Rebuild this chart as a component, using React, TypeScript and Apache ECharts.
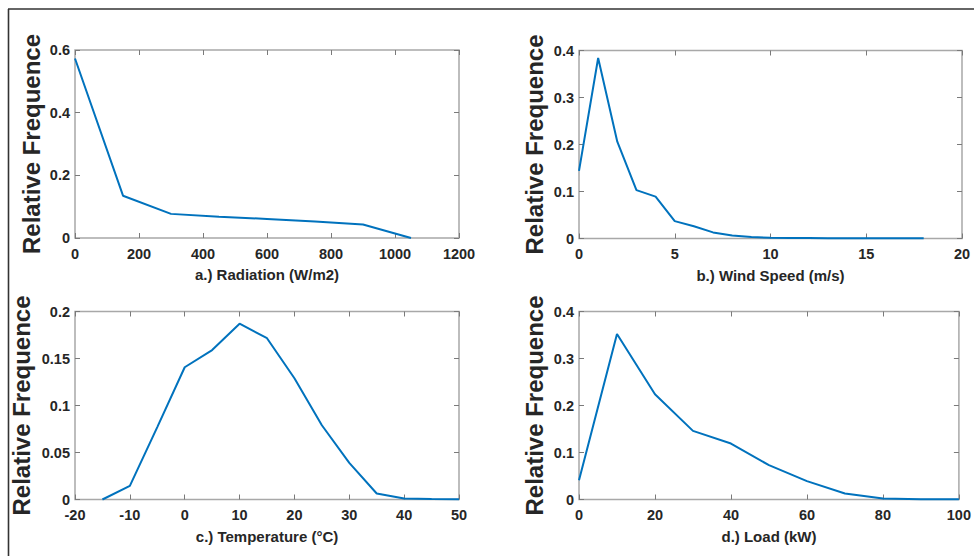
import React, { useEffect, useRef } from "react";
import * as echarts from "echarts";

// a.) Radiation
const radX = [0, 150, 300, 450, 600, 750, 900, 1050];
const radY = [0.573, 0.135, 0.077, 0.068, 0.061, 0.053, 0.043, 0.0];
// b.) Wind speed
const windX = [0, 1, 2, 3, 4, 5, 6, 7, 8, 9, 10, 11, 12, 13, 14, 15, 16, 17, 18];
const windY = [0.144, 0.384, 0.206, 0.103, 0.089, 0.037, 0.026, 0.013, 0.0065, 0.003, 0.0015, 0.001, 0.0009, 0.0007, 0.0006, 0.0005, 0.0004, 0.0003, 0.0003];
// c.) Temperature
const tempX = [-15, -10, -5, 0, 5, 10, 15, 20, 25, 30, 35, 40, 45, 50];
const tempY = [0.0, 0.0145, 0.077, 0.1407, 0.159, 0.187, 0.1716, 0.129, 0.079, 0.039, 0.0064, 0.001, 0.0004, 0.0003];
// d.) Load
const loadX = [0, 10, 20, 30, 40, 50, 60, 70, 80, 90, 100];
const loadY = [0.041, 0.352, 0.224, 0.146, 0.119, 0.073, 0.039, 0.0128, 0.002, 0.0006, 0.0004];

const xTitles = ["a.) Radiation (W/m2)", "b.) Wind Speed (m/s)", "c.) Temperature (°C)", "d.) Load (kW)"];
const yTitle = "Relative Frequence";
const xRanges = [
  [0, 1200, 200],
  [0, 20, 5],
  [-20, 50, 10],
  [0, 100, 20],
];
const yRanges = [
  [0, 0.6, 0.2],
  [0, 0.4, 0.1],
  [0, 0.2, 0.05],
  [0, 0.4, 0.1],
];

const FONT = "'Liberation Sans', Arial, sans-serif";
const TXT = "#262626";
const BOX = "#a8a8a8";
const TICK = "#7a7a7a";

const fmt = (v: number) => String(parseFloat(Number(v).toFixed(4)));

export default function App() {
  const ref = useRef<HTMLDivElement>(null);
  useEffect(() => {
    document.body.style.margin = "0";
    if (!ref.current) return;
    const chart = echarts.init(ref.current, undefined, { renderer: "svg" });
    const grids = [
      { left: 75, top: 50, width: 384, height: 188 },
      { left: 579, top: 50.5, width: 383, height: 188 },
      { left: 75, top: 311.5, width: 384, height: 188 },
      { left: 579, top: 311.5, width: 383, height: 188 },
    ];
    const yGaps = [32, 33, 42, 33];
    const data = [
      [radX, radY],
      [windX, windY],
      [tempX, tempY],
      [loadX, loadY],
    ];
    const xAxis: any[] = [];
    const yAxis: any[] = [];
    const series: any[] = [];
    grids.forEach((g, i) => {
      const [xmin, xmax, xint] = xRanges[i];
      const [ymin, ymax, yint] = yRanges[i];
      const common = {
        type: "value",
        gridIndex: i,
        splitLine: { show: false },
        axisLine: { show: false, onZero: false },
        axisTick: { show: true, inside: true, length: 5, lineStyle: { color: TICK, width: 1 } },
      };
      const lbl = { fontFamily: FONT, fontWeight: "bold", fontSize: 14.5, color: TXT, formatter: fmt };
      xAxis.push({
        ...common,
        min: xmin,
        max: xmax,
        interval: xint,
        position: "bottom",
        name: xTitles[i],
        nameLocation: "middle",
        nameGap: 29,
        nameTextStyle: { fontFamily: FONT, fontWeight: "bold", fontSize: 15, color: TXT },
        axisLabel: { ...lbl, margin: 8 },
      });
      xAxis.push({
        ...common,
        min: xmin,
        max: xmax,
        interval: xint,
        position: "top",
        axisLabel: { show: false },
      });
      yAxis.push({
        ...common,
        min: ymin,
        max: ymax,
        interval: yint,
        position: "left",
        name: yTitle,
        nameLocation: "middle",
        nameGap: yGaps[i],
        nameRotate: 90,
        nameTextStyle: { fontFamily: FONT, fontWeight: "bold", fontSize: 24, color: TXT },
        axisLabel: { ...lbl, margin: 5 },
      });
      yAxis.push({
        ...common,
        min: ymin,
        max: ymax,
        interval: yint,
        position: "right",
        axisLabel: { show: false },
      });
      series.push({
        type: "line",
        xAxisIndex: i * 2,
        yAxisIndex: i * 2,
        data: data[i][0].map((x, k) => [x, data[i][1][k]]),
        showSymbol: false,
        symbol: "none",
        lineStyle: { color: "#0072BD", width: 2 },
        clip: false,
      });
    });
    chart.setOption({
      animation: false,
      backgroundColor: "#ffffff",
      grid: grids.map((g) => ({ ...g, show: true, borderColor: BOX, borderWidth: 1.5, backgroundColor: "transparent" })),
      xAxis,
      yAxis,
      series,
      graphic: [
        { type: "line", shape: { x1: 8, y1: 9, x2: 974, y2: 9 }, style: { stroke: "#333333", lineWidth: 1.6 } },
        { type: "line", shape: { x1: 8.5, y1: 9, x2: 8.5, y2: 556 }, style: { stroke: "#333333", lineWidth: 1.6 } },
      ],
    });
    return () => chart.dispose();
  }, []);
  return <div ref={ref} style={{ width: 974, height: 556 }} />;
}
